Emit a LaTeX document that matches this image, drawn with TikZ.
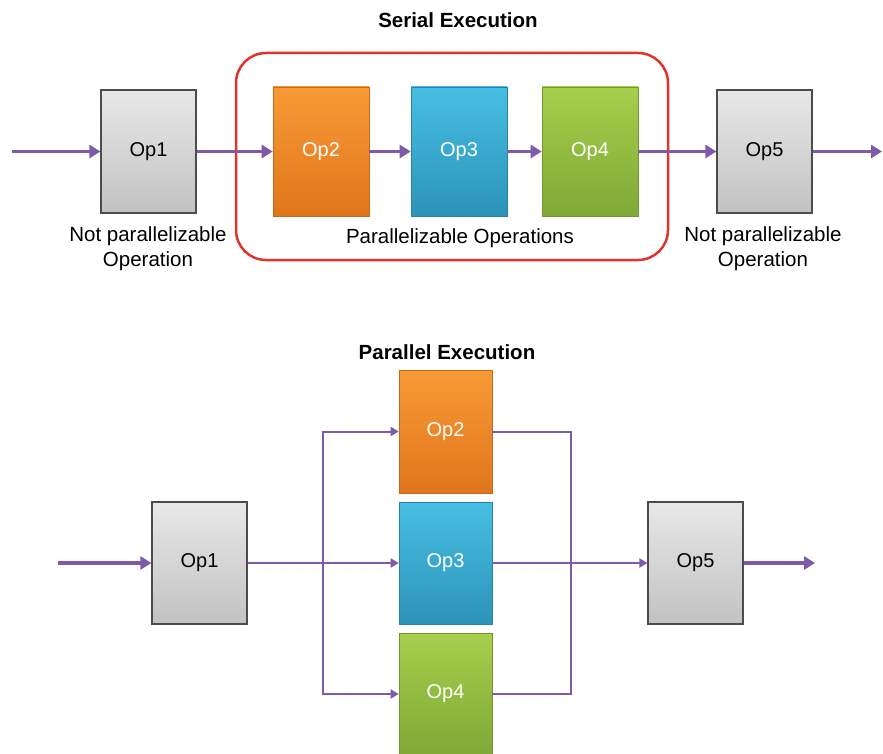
\documentclass[tikz,border=0pt]{standalone}
\usepackage{fontspec}
\setmainfont{Liberation Sans}
\usetikzlibrary{arrows.meta}
\definecolor{arrowpurple}{HTML}{7E5AA8}
\definecolor{frame}{HTML}{E0332C}
\definecolor{orA}{HTML}{F89A36}\definecolor{orB}{HTML}{E0761C}
\definecolor{blA}{HTML}{47BFE2}\definecolor{blB}{HTML}{2C93B8}
\definecolor{grA}{HTML}{A6CF4C}\definecolor{grB}{HTML}{7FA836}
\definecolor{gyA}{HTML}{E8E8E8}\definecolor{gyB}{HTML}{C2C2C2}
\tikzset{
  x=1pt,y=-1pt,
  opbase/.style={rectangle, inner sep=0pt, font=\fontsize{20}{24}\selectfont},
  graybox/.style={opbase, draw=black!70, line width=1.2pt, top color=gyA, bottom color=gyB, text=black},
  orangebox/.style={opbase, draw=orB!90!black, line width=0.6pt, top color=orA, bottom color=orB, text=white},
  bluebox/.style={opbase, draw=blB!90!black, line width=0.6pt, top color=blA, bottom color=blB, text=white},
  greenbox/.style={opbase, draw=grB!90!black, line width=0.6pt, top color=grA, bottom color=grB, text=white},
  thickarrow/.style={draw=arrowpurple, line width=3.5pt, -{Triangle[length=11pt,width=13pt]}},
  thinarrow/.style={draw=arrowpurple, line width=2pt, -{Triangle[length=8pt,width=9pt]}},
  thinline/.style={draw=arrowpurple, line width=2pt},
  lbl/.style={align=center, font=\fontsize{20.5}{25}\selectfont, inner sep=0pt},
  ttl/.style={font=\bfseries\fontsize{20.5}{24}\selectfont, inner sep=0pt},
}
\begin{document}
\begin{tikzpicture}
\useasboundingbox (0,0) rectangle (883,754);
\fill[white] (0,0) rectangle (883,754);

% ---------- Serial execution ----------
\node[ttl] (t1) at (458,20) {Serial Execution};
\node[draw=frame, line width=2.5pt, rounded corners=30pt, minimum width=432pt, minimum height=207pt, inner sep=0pt] (frame) at (452,156.5) {};

\node[graybox, minimum width=95pt, minimum height=123pt] (s1) at (148.5,151.5) {Op1};
\node[orangebox, minimum width=96pt, minimum height=129pt] (s2) at (321,151.5) {Op2};
\node[bluebox, minimum width=96pt, minimum height=129pt] (s3) at (459,151.5) {Op3};
\node[greenbox, minimum width=96pt, minimum height=129pt] (s4) at (590,151.5) {Op4};
\node[graybox, minimum width=95pt, minimum height=123pt] (s5) at (764.5,151.5) {Op5};

\coordinate (sin) at (12,151.5);
\coordinate (sout) at (882,151.5);

\draw[thickarrow] (sin) -- (s1.west);
\draw[thickarrow] (s1.east) -- (s2.west);
\draw[thickarrow] (s2.east) -- (s3.west);
\draw[thickarrow] (s3.east) -- (s4.west);
\draw[thickarrow] (s4.east) -- (s5.west);
\draw[thickarrow] (s5.east) -- (sout);

\node[lbl] (l1) at (148,249) {Not parallelizable\\Operation};
\node[lbl] (l2) at (460,238) {Parallelizable Operations};
\node[lbl] (l3) at (763,249) {Not parallelizable\\Operation};

% ---------- Parallel execution ----------
\node[ttl] (t2) at (447,352) {Parallel Execution};

\node[graybox, minimum width=95pt, minimum height=122pt] (p1) at (199.5,563) {Op1};
\node[orangebox, minimum width=93pt, minimum height=123pt] (p2) at (445.5,431.5) {Op2};
\node[bluebox, minimum width=93pt, minimum height=122pt] (p3) at (445.5,563) {Op3};
\node[greenbox, minimum width=93pt, minimum height=122pt] (p4) at (445.5,694) {Op4};
\node[graybox, minimum width=95pt, minimum height=122pt] (p5) at (695.5,563) {Op5};

\coordinate (pin) at (58,563);
\coordinate (pout) at (815,563);
\coordinate (split) at (323,563);
\coordinate (mtop) at (571,431.5);
\coordinate (mbot) at (571,694);

\draw[thickarrow] (pin) -- (p1.west);
\draw[thinarrow] (p1.east) -- (p3.west);
\draw[thinarrow] (split) |- (p2.west);
\draw[thinarrow] (split) |- (p4.west);
\draw[thinline] (p2.east) -- (mtop) -- (mbot) -- (p4.east);
\draw[thinarrow] (p3.east) -- (p5.west);
\draw[thickarrow] (p5.east) -- (pout);
\end{tikzpicture}
\end{document}
